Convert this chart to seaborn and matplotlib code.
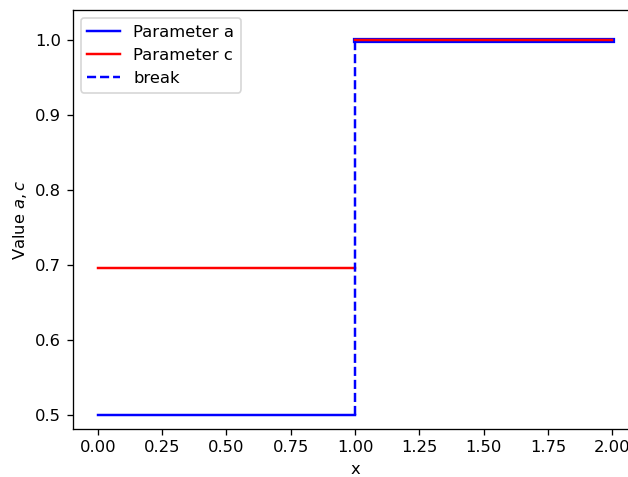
import matplotlib
matplotlib.use("Agg")
import matplotlib.pyplot as plt
import seaborn as sns
import pandas as pd

# Piecewise-constant parameters on two intervals
x_edges = [0.0, 1.0, 2.0]
a_values = [0.5, 1.0]
c_values = [0.696, 1.0]
break_x = 1.0

DPI = 118
fig = plt.figure(figsize=(628 / DPI, 477 / DPI), dpi=DPI)
ax = fig.add_axes([0.1158, 0.1006, 0.900, 0.8784])

# Parameter a (blue), the upper piece drawn wider so it frames the c line
for i, val in enumerate(a_values):
    seg = pd.DataFrame({"x": [x_edges[i], x_edges[i + 1]], "y": [val, val]})
    sns.lineplot(data=seg, x="x", y="y", ax=ax, color="blue",
                 linewidth=1.5 if i == 0 else 3.2,
                 estimator=None, sort=False,
                 label="Parameter a" if i == 0 else None)

# Parameter c (red)
for i, val in enumerate(c_values):
    seg = pd.DataFrame({"x": [x_edges[i], x_edges[i + 1]], "y": [val, val]})
    sns.lineplot(data=seg, x="x", y="y", ax=ax, color="red", linewidth=1.5,
                 estimator=None, sort=False,
                 label="Parameter c" if i == 0 else None)

# Jump of a at the break point
brk = pd.DataFrame({"x": [break_x, break_x], "y": [a_values[0], a_values[1]]})
sns.lineplot(data=brk, x="x", y="y", ax=ax, color="blue", linestyle="--",
             linewidth=1.5, estimator=None, sort=False, label="break")

ax.set_xlim(-0.098, 2.1)
ax.set_ylim(0.481, 1.04)
ax.set_xticks([0.0, 0.25, 0.5, 0.75, 1.0, 1.25, 1.5, 1.75, 2.0])
ax.set_xticklabels(["0.00", "0.25", "0.50", "0.75", "1.00", "1.25", "1.50", "1.75", "2.00"])
ax.set_yticks([0.5, 0.6, 0.7, 0.8, 0.9, 1.0])
ax.set_xlabel("x")
ax.set_ylabel("Value $a, c$")
ax.legend(loc="upper left")

fig.savefig("out.png", dpi=DPI)
